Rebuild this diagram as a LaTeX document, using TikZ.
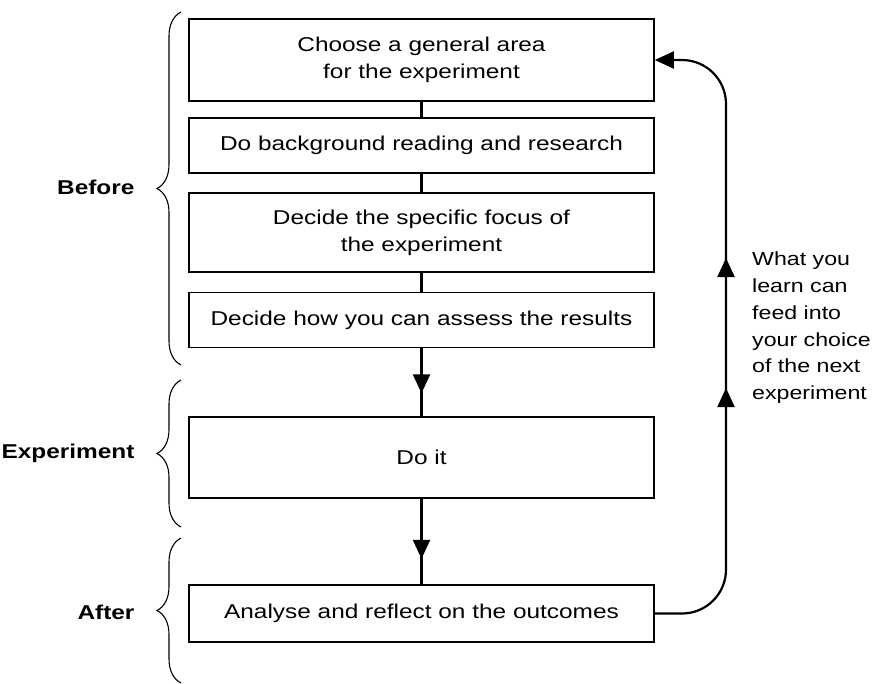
\documentclass[tikz,border=0pt]{standalone}
\usepackage{fontspec}
\setmainfont[FakeStretch=1.22]{Liberation Sans}
\usetikzlibrary{arrows.meta,decorations.pathreplacing,decorations.markings}
\begin{document}
\begin{tikzpicture}[x=1pt,y=-1pt,
  box/.style={draw, line width=1.6pt, minimum width=465pt, inner sep=0pt, align=center, font=\fontsize{20}{27}\selectfont},
  link/.style={line width=2.2pt},
  tri/.tip={Triangle[width=17pt,length=19pt]},
  lbl/.style={font=\fontsize{20}{27}\selectfont\bfseries, anchor=east},
  brc/.style={decorate, decoration={brace, amplitude=24pt, aspect=0.5}, line width=1.1pt},
  note/.style={font=\fontsize{19}{26.7}\selectfont, align=left, anchor=north west, inner sep=0pt}]
\useasboundingbox (0,0) rectangle (875,683);
\node[box, minimum height=82pt] (b1) at (421.5,60) {Choose a general area\\for the experiment};
\node[box, minimum height=55pt] (b2) at (421.5,145.5) {Do background reading and research};
\node[box, minimum height=79pt] (b3) at (421.5,232.5) {Decide the specific focus of\\the experiment};
\node[box, minimum height=55pt] (b4) at (421.5,320) {Decide how you can assess the results};
\node[box, minimum height=81pt] (b5) at (421.5,457.5) {Do it};
\node[box, minimum height=57pt] (b6) at (421.5,613.5) {Analyse and reflect on the outcomes};
\draw[link] (b1) -- (b2);
\draw[link] (b2) -- (b3);
\draw[link] (b3) -- (b4);
\draw[link, postaction={decorate}, decoration={markings, mark=at position 45pt with {\arrow{tri}}}] (b4) -- (b5);
\draw[link, postaction={decorate}, decoration={markings, mark=at position 60pt with {\arrow{tri}}}] (b5) -- (b6);
\coordinate (fb) at (726,300);
\draw[link, rounded corners=44pt, -{tri}] (b6.east) -| (fb) |- (b1.east);
\path[decorate, decoration={markings,
   mark=at position 0.5 with {\arrow[line width=2.2pt]{tri}}}] (726,408) -- (726,368);
\path[decorate, decoration={markings,
   mark=at position 0.5 with {\arrow[line width=2.2pt]{tri}}}] (726,278) -- (726,238);
\node[note] (nt) at (752,252) {What you\\learn can\\feed into\\your choice\\of the next\\experiment};
\draw[brc] (181,365) -- (181,12);
\draw[brc] (181,527) -- (181,380);
\draw[brc] (181,683) -- (181,538);
\node[lbl] (lb) at (138,187) {Before};
\node[lbl] (le) at (138,453) {Experiment};
\node[lbl] (la) at (138,612) {After};
\end{tikzpicture}
\end{document}
